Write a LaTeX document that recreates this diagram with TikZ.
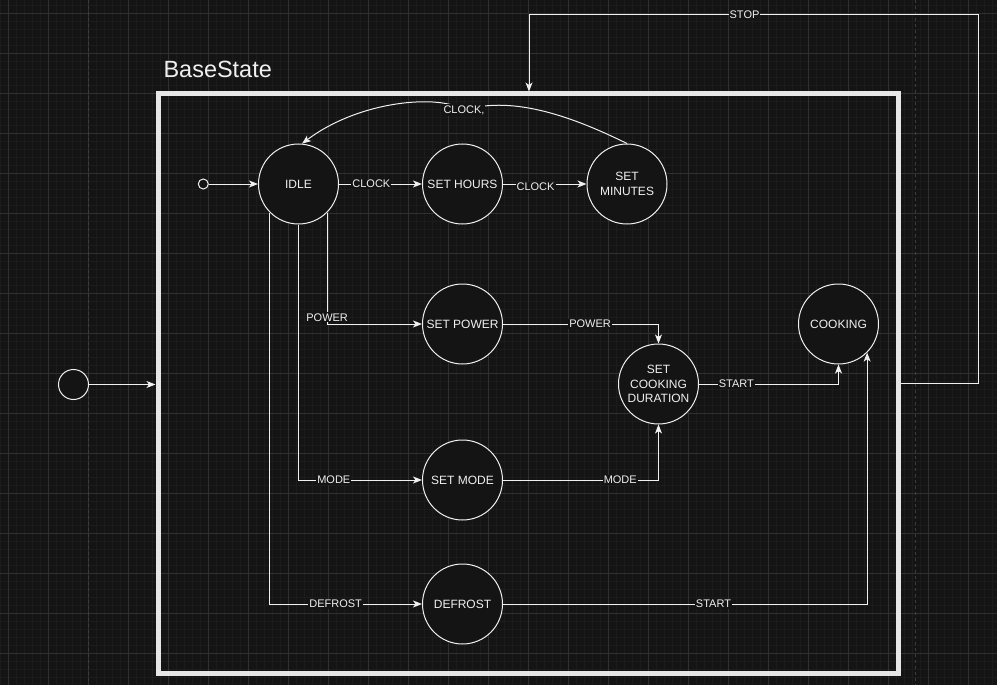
\documentclass[tikz,border=0pt]{standalone}
\usepackage{fontspec}
\setmainfont{Liberation Sans}
\usetikzlibrary{arrows.meta}
\definecolor{bg}{HTML}{141414}
\definecolor{gridminor}{HTML}{1C1C1C}
\definecolor{gridmajor}{HTML}{303030}
\definecolor{pageline}{HTML}{3E3E3E}
\definecolor{fg}{HTML}{F0F0F0}
\definecolor{boxc}{HTML}{E6E6E6}
\tikzset{
  statenode/.style={circle, draw=fg, line width=0.75pt, fill=bg, minimum size=60pt, inner sep=0pt, text=fg, font=\fontsize{9}{11}\selectfont, align=center},
  initnode/.style={circle, draw=fg, line width=0.75pt, fill=bg, inner sep=0pt},
  lbl/.style={fill=bg, text=fg, inner sep=0.75pt, font=\fontsize{8.25}{9}\selectfont},
  arr/.style={draw=fg, line width=0.75pt, -{Stealth[length=6.75pt,width=5.25pt,inset=1.8pt]}},
  minorline/.style={draw=gridminor, line width=0.75pt},
  majorline/.style={draw=gridmajor, line width=0.75pt},
  pagebreak/.style={draw=pageline, line width=0.75pt, dash pattern=on 2.25pt off 2.25pt},
}
\begin{document}
\begin{tikzpicture}[x=0.75pt,y=-0.75pt]
\fill[bg] (0,0) rectangle (997,685);
\useasboundingbox (0,0) rectangle (997,685);
% grid
\foreach \i in {0,...,124} \draw[minorline] ({0.3+8*\i},0) -- ({0.3+8*\i},685);
\foreach \i in {0,...,85} \draw[minorline] (0,{5.3+8*\i}) -- (997,{5.3+8*\i});
\foreach \i in {0,...,24} \draw[majorline] ({8.3+40*\i},0) -- ({8.3+40*\i},685);
\foreach \i in {0,...,16} \draw[majorline] (0,{13.3+40*\i}) -- (997,{13.3+40*\i});
\draw[pagebreak] (88.3,0) -- (88.3,685);
\draw[pagebreak] (915.8,0) -- (915.8,685);

% container
\node[draw=boxc, line width=3.75pt, minimum width=555pt, minimum height=434.25pt, inner sep=0pt] (base) at (528,383.5) {};
\node[anchor=base west, text=fg, font=\fontsize{17.6}{20}\selectfont, inner sep=0pt] (title) at (163.3,77.3) {BaseState};

% states
\node[statenode] (idle) at (298.5,184) {IDLE};
\node[statenode] (sethours) at (462.5,184) {SET HOURS};
\node[statenode] (setmin) at (627,184) {SET\\MINUTES};
\node[statenode] (setpower) at (462.5,324) {SET POWER};
\node[statenode] (scd) at (658.5,384) {SET\\COOKING\\DURATION};
\node[statenode] (cooking) at (838.5,324) {COOKING};
\node[statenode] (setmode) at (462.5,480) {SET MODE};
\node[statenode] (defrost) at (462.5,604) {DEFROST};
\node[initnode, minimum size=7.5pt] (init1) at (203.3,184) {};
\node[initnode, minimum size=22.5pt] (init0) at (73.5,384.5) {};

% transitions
\draw[arr] (init0) -- (init0 -| base.west);
\draw[arr] (init1) -- (idle);
\draw[arr] (idle) -- node[lbl,pos=0.39]{CLOCK} (sethours);
\draw[arr] (sethours) -- node[lbl,pos=0.39,yshift=-2.25pt]{CLOCK} (setmin);
\draw[arr] (setmin.north) .. controls (575,118) and (515,95) .. (464,110) node[lbl]{CLOCK,} .. controls (440,94) and (360,100) .. (idle.85);
\draw[arr] (idle.-45) |- node[lbl,pos=0.47]{POWER} (setpower);
\draw[arr] (idle.south) |- node[lbl,pos=0.643]{MODE} (setmode);
\draw[arr] (idle.-135) |- node[lbl,pos=0.716]{DEFROST} (defrost);
\draw[arr] (setpower) -| node[lbl,pos=0.28]{POWER} (scd);
\draw[arr] (setmode) -| node[lbl,pos=0.377]{MODE} (scd);
\draw[arr] (scd) -| node[lbl,pos=0.134]{START} (cooking);
\draw[arr] (defrost) -| node[lbl,pos=0.289]{START} (cooking.-45);
\coordinate (s1) at (978,15);
\coordinate (s2) at (529,15);
\draw[arr] (base.east) -| (s1) -- node[lbl,pos=0.52]{STOP} (s2) -- (s2 |- base.north);
\end{tikzpicture}
\end{document}
